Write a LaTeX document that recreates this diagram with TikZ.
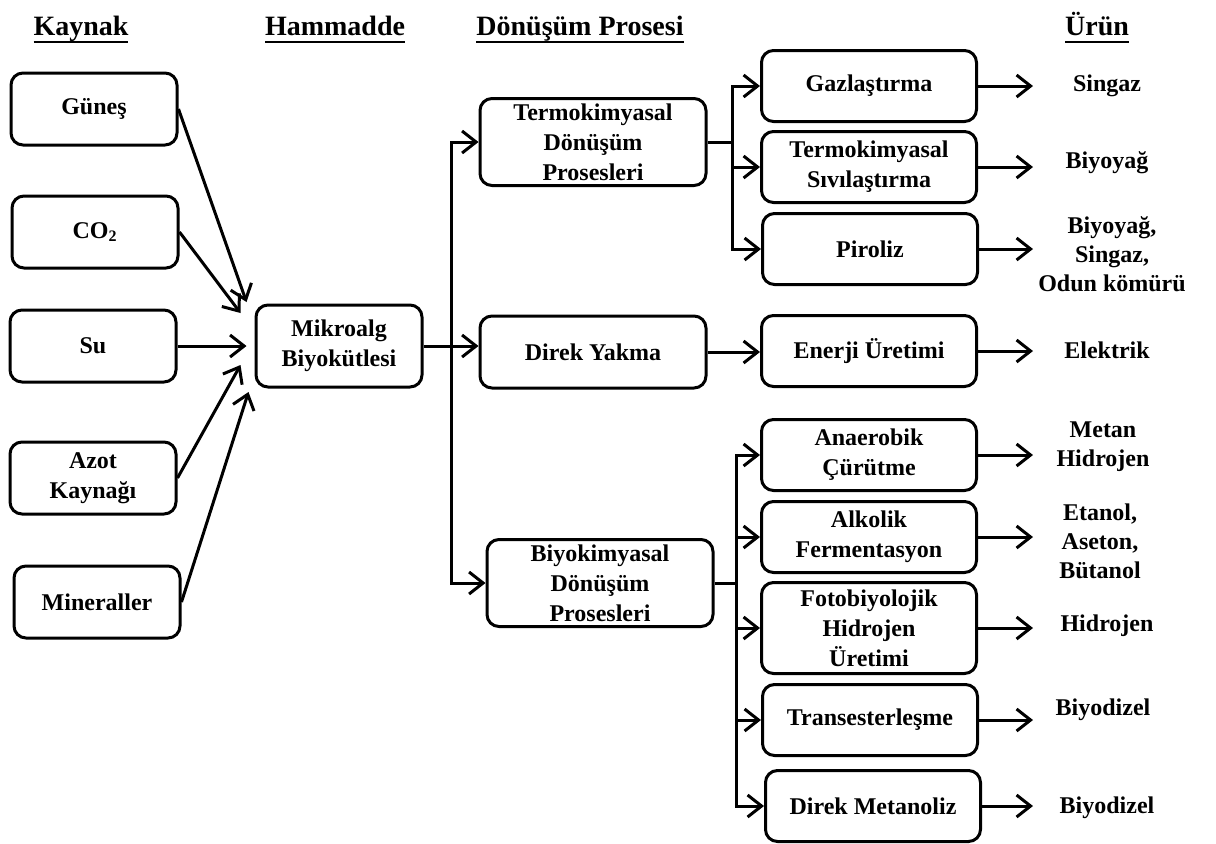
\documentclass[tikz,border=0pt]{standalone}
\usepackage{fontspec}
\setmainfont{Liberation Serif}
\usepackage{tikz}
\usetikzlibrary{arrows.meta,positioning,calc}
\newsavebox{\hdrbox}
\newcommand{\ulhead}[1]{\sbox\hdrbox{#1}\rlap{\usebox\hdrbox}\rule[-4pt]{\wd\hdrbox}{1.1pt}}

\begin{document}
\begin{tikzpicture}[
  x=0.5pt,y=-0.5pt,
  every node/.style={font=\fontsize{12}{15}\selectfont\bfseries,align=center},
  box/.style={draw,rounded corners=6pt,line width=1.5pt,inner sep=0pt,minimum width=107.5pt,minimum height=35.5pt},
  src/.style={box,minimum width=83pt,minimum height=36pt},
  proc/.style={box,minimum width=113pt,minimum height=43.5pt},
  head/.style={font=\fontsize{14}{16}\selectfont\bfseries,anchor=base},
  product/.style={font=\fontsize{12}{14.5}\selectfont\bfseries},
  line/.style={line width=1.5pt},
  arr/.style={line,-{Straight Barb[length=7pt,width=11pt]}}
]
\useasboundingbox (0,0) rectangle (1216,843);

\node[head] (hK) at (81,35) {\ulhead{Kaynak}};
\node[head] (hH) at (335,35) {\ulhead{Hammadde}};
\node[head] (hD) at (580,35) {\ulhead{Dönüşüm Prosesi}};
\node[head] (hU) at (1097,35) {\ulhead{Ürün}};

\node[src] (gunes) at (94,109) {Güneş};
\node[src] (co2) at (95,232) {CO\textsubscript{2}};
\node[src] (su) at (93,346) {Su};
\node[src] (azot) at (93,478) {Azot\\Kaynağı};
\node[src] (mineral) at (97,602) {Mineraller};
\node[src,minimum height=41pt] (mik) at (339,346) {Mikroalg\\Biyokütlesi};

\node[proc] (termo) at (593,142) {Termokimyasal\\Dönüşüm\\Prosesleri};
\node[proc,minimum height=36pt] (yakma) at (593,352) {Direk Yakma};
\node[proc] (biyo) at (600,583) {Biyokimyasal\\Dönüşüm\\Prosesleri};

\node[box] (gaz) at (869,86) {Gazlaştırma};
\node[box] (siv) at (869,167) {Termokimyasal\\Sıvılaştırma};
\node[box] (pir) at (870,249) {Piroliz};
\node[box] (enerji) at (869,351) {Enerji Üretimi};
\node[box] (anae) at (869,455) {Anaerobik\\Çürütme};
\node[box] (alko) at (869,537) {Alkolik\\Fermentasyon};
\node[box,minimum height=45.5pt] (foto) at (869,628) {Fotobiyolojik\\Hidrojen\\Üretimi};
\node[box] (trans) at (870,720) {Transesterleşme};
\node[box] (meta) at (873,806) {Direk Metanoliz};

\node[product] (p1) at (1107,86) {Singaz};
\node[product] (p2) at (1107,163) {Biyoyağ};
\node[product] (p3) at (1112,254) {Biyoyağ,\\Singaz,\\Odun kömürü};
\node[product] (p4) at (1107,350) {Elektrik};
\node[product] (p5) at (1103,447) {Metan\\Hidrojen};
\node[product] (p6) at (1100,541) {Etanol,\\Aseton,\\Bütanol};
\node[product] (p7) at (1107,626) {Hidrojen};
\node[product] (p8) at (1103,710) {Biyodizel};
\node[product] (p9) at (1107,808) {Biyodizel};

\coordinate (jA) at (451,0);
\coordinate (jB) at (732,0);
\coordinate (jC) at (736,0);
\coordinate (pout) at (1033,0);

\draw[arr] (gunes.east) -- ($(mik.west)+(-8,-44)$);
\draw[arr] (co2.east) -- ($(mik.west)+(-14,-33)$);
\draw[arr] (su.east) -- ($(mik.west)+(-8,0)$);
\draw[arr] (azot.east) -- ($(mik.west)+(-14,19)$);
\draw[arr] (mineral.east) -- ($(mik.west)+(-6,46)$);

\draw[arr] (mik.east) -- (mik.east -| yakma.west);
\draw[arr] (mik.east -| jA) |- (termo.west);
\draw[arr] (mik.east -| jA) |- (biyo.west);
\draw[arr] (yakma.east) -- (yakma.east -| enerji.west);

\draw[line] (termo.east) -- (termo.east -| jB);
\foreach \n in {gaz,siv,pir}
  \draw[arr] (termo.east -| jB) |- (\n.west);
\draw[line] (biyo.east) -- (biyo.east -| jC);
\foreach \n in {anae,alko,foto,trans,meta}
  \draw[arr] (biyo.east -| jC) |- (\n.west);

\foreach \b in {gaz,siv,pir,enerji,anae,alko,foto,trans,meta}
  \draw[arr] (\b.east) -- (\b.east -| pout);
\end{tikzpicture}
\end{document}
